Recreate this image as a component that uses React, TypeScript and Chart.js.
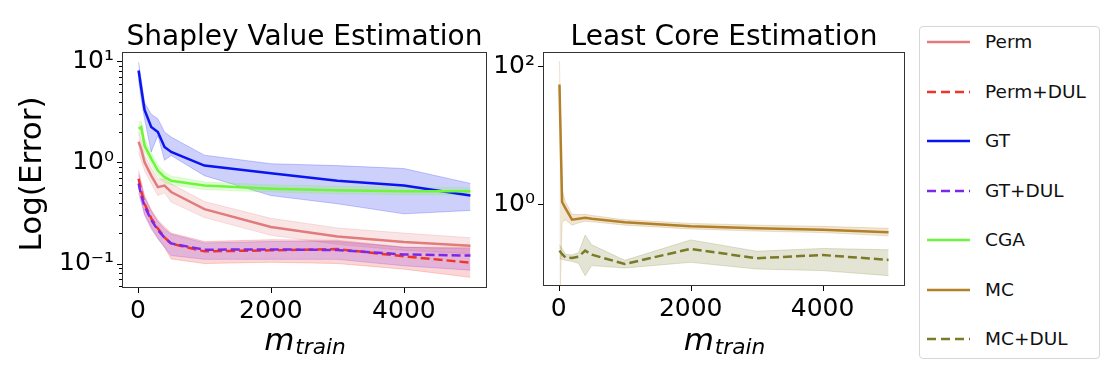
import React, { useEffect, useRef } from 'react';
import { Chart, registerables } from 'chart.js';

Chart.register(...registerables);

const FONT = "'DejaVu Sans', 'Liberation Sans', sans-serif";

// ---------- data ----------
const mTrain = [10, 50, 100, 200, 300, 400, 500, 1000, 2000, 3000, 4000, 5000];

// Shapley value estimation
const perm = [1.6, 1.35, 1.0, 0.74, 0.57, 0.59, 0.51, 0.345, 0.23, 0.185, 0.163, 0.15];
const permHi = [2.0, 1.65, 1.17, 0.88, 0.69, 0.68, 0.615, 0.41, 0.28, 0.225, 0.2, 0.18];
const permLo = [1.25, 1.05, 0.83, 0.62, 0.47, 0.5, 0.405, 0.285, 0.19, 0.155, 0.135, 0.125];

const permDul = [0.69, 0.52, 0.39, 0.28, 0.222, 0.182, 0.157, 0.132, 0.135, 0.139, 0.118, 0.102];
const permDulHi = [0.83, 0.64, 0.47, 0.34, 0.27, 0.23, 0.2, 0.165, 0.172, 0.17, 0.145, 0.145];
const permDulLo = [0.57, 0.43, 0.31, 0.23, 0.18, 0.145, 0.111, 0.1, 0.103, 0.1, 0.088, 0.073];

const gt = [8.1, 5.4, 3.3, 2.24, 2.0, 1.42, 1.27, 0.93, 0.78, 0.66, 0.59, 0.47];
const gtHi = [9.8, 6.6, 3.9, 3.0, 2.7, 2.0, 1.78, 1.18, 0.97, 0.93, 0.87, 0.62];
const gtLo = [6.6, 4.2, 2.7, 1.27, 1.85, 1.05, 1.17, 0.74, 0.47, 0.39, 0.31, 0.335];

const gtDul = [0.62, 0.47, 0.37, 0.27, 0.215, 0.18, 0.158, 0.137, 0.138, 0.136, 0.123, 0.12];
const gtDulHi = [0.76, 0.6, 0.45, 0.33, 0.26, 0.22, 0.195, 0.16, 0.165, 0.165, 0.145, 0.14];
const gtDulLo = [0.5, 0.4, 0.3, 0.22, 0.175, 0.145, 0.12, 0.11, 0.11, 0.11, 0.095, 0.086];

const cga = [2.15, 2.24, 1.47, 1.09, 0.83, 0.715, 0.66, 0.59, 0.55, 0.53, 0.52, 0.52];
const cgaHi = [2.5, 2.55, 1.7, 1.25, 0.95, 0.8, 0.73, 0.64, 0.6, 0.58, 0.57, 0.56];
const cgaLo = [1.85, 1.95, 1.28, 0.95, 0.73, 0.63, 0.6, 0.54, 0.51, 0.49, 0.48, 0.48];

// Least core estimation
const mc = [54, 1.08, 0.88, 0.6, 0.62, 0.64, 0.62, 0.55, 0.48, 0.45, 0.43, 0.395];
const mcHi = [118, 1.6, 1.1, 0.72, 0.71, 0.72, 0.69, 0.6, 0.53, 0.5, 0.48, 0.45];
const mcLo = [0.02, 0.55, 0.6, 0.5, 0.54, 0.57, 0.56, 0.5, 0.44, 0.41, 0.39, 0.35];

const mcDul = [0.214, 0.19, 0.171, 0.168, 0.175, 0.214, 0.187, 0.137, 0.227, 0.166, 0.185, 0.157];
const mcDulHi = [0.26, 0.23, 0.19, 0.185, 0.2, 0.36, 0.26, 0.155, 0.306, 0.21, 0.23, 0.22];
const mcDulLo = [0.165, 0.16, 0.155, 0.15, 0.14, 0.093, 0.13, 0.12, 0.145, 0.116, 0.11, 0.093];

// ---------- ticks / labels ----------
const xTickValues = [0, 2000, 4000];
const xTickLabels = ['0', '2000', '4000'];
const leftYTickValues = [0.1, 1, 10];
const leftYTickLabels = ['10⁻¹', '10⁰', '10¹'];
const leftYMinorTicks = [0.06, 0.07, 0.08, 0.09, 0.2, 0.3, 0.4, 0.5, 0.6, 0.7, 0.8, 0.9, 2, 3, 4, 5, 6, 7, 8, 9];
const rightYTickValues = [1, 100];
const rightYTickLabels = ['10⁰', '10²'];

const leftTitle = 'Shapley Value Estimation';
const rightTitle = 'Least Core Estimation';
const yTitle = 'Log(Error)';

const legendLabels = ['Perm', 'Perm+DUL', 'GT', 'GT+DUL', 'CGA', 'MC', 'MC+DUL'];

// ---------- styles ----------
const RGB: Record<string, string> = {
  perm: '226,124,124',
  permDul: '240,52,40',
  gt: '10,20,240',
  gtDul: '125,40,230',
  cga: '110,245,60',
  mc: '178,128,40',
  mcDul: '122,122,40',
};
const legendKeys = ['perm', 'permDul', 'gt', 'gtDul', 'cga', 'mc', 'mcDul'];
const legendDashed = [false, true, false, true, false, false, true];
const DASH = [9, 4];

const pts = (ys: number[]) => mTrain.map((x, i) => ({ x, y: ys[i] }));

function band(key: string, hi: number[], lo: number[], order: number) {
  const c = RGB[key];
  return [
    {
      label: key + '-hi', data: pts(hi), borderColor: `rgba(${c},0.22)`, borderWidth: 1,
      backgroundColor: `rgba(${c},0.2)`, fill: '+1', pointRadius: 0, tension: 0, order,
    },
    {
      label: key + '-lo', data: pts(lo), borderColor: `rgba(${c},0.22)`, borderWidth: 1,
      backgroundColor: 'transparent', fill: false, pointRadius: 0, tension: 0, order,
    },
  ];
}

function line(key: string, ys: number[], dashed: boolean, order: number) {
  return {
    label: key, data: pts(ys), borderColor: `rgb(${RGB[key]})`, borderWidth: 2.5,
    borderDash: dashed ? DASH : [], fill: false, pointRadius: 0, tension: 0, order,
  };
}

const decor = {
  id: 'decor',
  afterDraw(chart: any, _args: any, o: any) {
    const { ctx, chartArea: a } = chart;
    const xs = chart.scales.x;
    const ys = chart.scales.y;
    ctx.save();
    // frame
    ctx.strokeStyle = '#333';
    ctx.lineWidth = 1;
    ctx.strokeRect(a.left + 0.5, a.top + 0.5, a.right - a.left - 1, a.bottom - a.top - 1);
    // ticks
    ctx.strokeStyle = '#000';
    ctx.lineWidth = 1;
    ctx.beginPath();
    for (const v of xTickValues) {
      const p = Math.round(xs.getPixelForValue(v)) + 0.5;
      ctx.moveTo(p, a.bottom);
      ctx.lineTo(p, a.bottom + 5);
    }
    for (const v of o.yMajor) {
      const p = Math.round(ys.getPixelForValue(v)) + 0.5;
      ctx.moveTo(a.left - 5, p);
      ctx.lineTo(a.left, p);
    }
    for (const v of o.yMinor) {
      const p = Math.round(ys.getPixelForValue(v)) + 0.5;
      ctx.moveTo(a.left - 3, p);
      ctx.lineTo(a.left, p);
    }
    ctx.stroke();
    // texts
    const cx = (a.left + a.right) / 2;
    ctx.fillStyle = '#000';
    ctx.textBaseline = 'alphabetic';
    ctx.textAlign = 'center';
    ctx.font = `28px ${FONT}`;
    ctx.fillText(o.title, cx, 45);
    if (o.ylabel) {
      ctx.save();
      ctx.translate(41, (a.top + a.bottom) / 2 + 4);
      ctx.rotate(-Math.PI / 2);
      ctx.font = `31px ${FONT}`;
      ctx.fillText(o.ylabel, 0, 0);
      ctx.restore();
    }
    ctx.textAlign = 'left';
    ctx.font = `italic 31px ${FONT}`;
    const wm = ctx.measureText('m').width;
    ctx.font = `italic 21.7px ${FONT}`;
    const wt = ctx.measureText('train').width;
    const sx = cx - (wm + wt) / 2;
    ctx.font = `italic 31px ${FONT}`;
    ctx.fillText('m', sx, 350);
    ctx.font = `italic 21.7px ${FONT}`;
    ctx.fillText('train', sx + wm + 1, 354);
    ctx.restore();
  },
};

function makeConfig(datasets: any[], opts: {
  yMin: number; yMax: number; yTicks: number[]; yLabels: string[]; yMinor: number[];
  title: string; ylabel?: string; padRight: number; yWidth: number; xHeight: number;
}) {
  return {
    type: 'line',
    data: { datasets },
    plugins: [decor],
    options: {
      animation: false,
      responsive: false,
      devicePixelRatio: 1,
      layout: { padding: { top: 52, right: opts.padRight, bottom: 0, left: 0 } },
      plugins: {
        legend: { display: false },
        tooltip: { enabled: false },
        title: { display: false },
        decor: { title: opts.title, ylabel: opts.ylabel, yMajor: opts.yTicks, yMinor: opts.yMinor },
      },
      scales: {
        x: {
          type: 'linear',
          min: -239.5,
          max: 5249.5,
          grid: { display: false, drawTicks: false },
          border: { display: false },
          afterBuildTicks: (s: any) => { s.ticks = xTickValues.map((v) => ({ value: v })); },
          afterFit: (s: any) => { s.height = opts.xHeight; },
          ticks: {
            autoSkip: false,
            maxRotation: 0,
            padding: 8,
            color: '#000',
            font: { family: FONT, size: 25 },
            callback: (v: number) => xTickLabels[xTickValues.indexOf(v)] ?? '',
          },
        },
        y: {
          type: 'logarithmic',
          min: opts.yMin,
          max: opts.yMax,
          grid: { display: false, drawTicks: false },
          border: { display: false },
          afterBuildTicks: (s: any) => { s.ticks = opts.yTicks.map((v) => ({ value: v, major: true })); },
          afterFit: (s: any) => { s.width = opts.yWidth; },
          ticks: {
            autoSkip: false,
            padding: 8,
            color: '#000',
            font: { family: FONT, size: 25 },
            callback: (v: number) => {
              const i = opts.yTicks.findIndex((t) => Math.abs(t - v) / t < 1e-6);
              return i >= 0 ? opts.yLabels[i] : '';
            },
          },
        },
      },
    },
  } as any;
}

function LegendBox() {
  return (
    <div
      style={{
        position: 'absolute', left: 919, top: 26, width: 181, height: 333,
        boxSizing: 'border-box', border: '1px solid #d6d6d6', borderRadius: 4, background: '#fff',
      }}
    >
      {legendLabels.map((lab, i) => {
        const c = `rgb(${RGB[legendKeys[i]]})`;
        const cy = 15 + i * 49.5;
        return (
          <div key={lab} style={{ position: 'absolute', left: 0, top: cy - 12, height: 24, width: 180 }}>
            <svg width={50} height={24} style={{ position: 'absolute', left: 6, top: 0 }}>
              <line
                x1={1} y1={12} x2={44} y2={12} stroke={c} strokeWidth={2.5}
                strokeDasharray={legendDashed[i] ? '9 5' : undefined}
              />
            </svg>
            <span
              style={{
                position: 'absolute', left: 65, top: 0, lineHeight: '24px', fontSize: 18.5,
                fontFamily: FONT, color: '#111', whiteSpace: 'nowrap',
              }}
            >
              {lab}
            </span>
          </div>
        );
      })}
    </div>
  );
}

export default function App() {
  const leftRef = useRef<HTMLCanvasElement>(null);
  const rightRef = useRef<HTMLCanvasElement>(null);

  useEffect(() => {
    const leftSets = [
      ...band('perm', permHi, permLo, 20),
      ...band('permDul', permDulHi, permDulLo, 19),
      ...band('gt', gtHi, gtLo, 18),
      ...band('gtDul', gtDulHi, gtDulLo, 17),
      ...band('cga', cgaHi, cgaLo, 16),
      line('perm', perm, false, 5),
      line('permDul', permDul, true, 4),
      line('gt', gt, false, 3),
      line('gtDul', gtDul, true, 2),
      line('cga', cga, false, 1),
    ];
    const rightSets = [
      ...band('mc', mcHi, mcLo, 20),
      ...band('mcDul', mcDulHi, mcDulLo, 19),
      line('mc', mc, false, 2),
      line('mcDul', mcDul, true, 1),
    ];
    const c1 = new Chart(leftRef.current!, makeConfig(leftSets, {
      yMin: 0.0573, yMax: 12.36, yTicks: leftYTickValues, yLabels: leftYTickLabels,
      yMinor: leftYMinorTicks, title: leftTitle, ylabel: yTitle, padRight: 13, yWidth: 122, xHeight: 82,
    }));
    const c2 = new Chart(rightRef.current!, makeConfig(rightSets, {
      yMin: 0.0659, yMax: 159.4, yTicks: rightYTickValues, yLabels: rightYTickLabels,
      yMinor: [], title: rightTitle, padRight: 9, yWidth: 55, xHeight: 84,
    }));
    return () => { c1.destroy(); c2.destroy(); };
  }, []);

  return (
    <div style={{ position: 'absolute', left: 0, top: 0, width: 1114, height: 370, background: '#fff', overflow: 'hidden' }}>
      <canvas ref={leftRef} width={500} height={370} style={{ position: 'absolute', left: 0, top: 0 }} />
      <canvas ref={rightRef} width={426} height={370} style={{ position: 'absolute', left: 488, top: 0 }} />
      <LegendBox />
    </div>
  );
}
